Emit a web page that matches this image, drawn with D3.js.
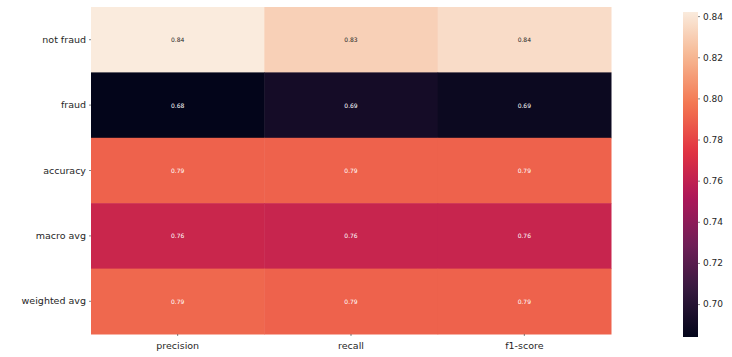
<!DOCTYPE html>
<html>
<head>
<meta charset="utf-8">
<script src="https://cdn.jsdelivr.net/npm/d3@7"></script>
<style>
  body { margin: 0; background: #fff; }
  svg { display: block; font-family: "DejaVu Sans", sans-serif; }
</style>
</head>
<body>
<svg id="chart" width="732" height="357"></svg>
<script>
// Classification report metrics
const rows = ["not fraud", "fraud", "accuracy", "macro avg", "weighted avg"];
const cols = ["precision", "recall", "f1-score"];
const precision = [0.842, 0.684, 0.79, 0.764, 0.792];
const recall    = [0.831, 0.692, 0.79, 0.763, 0.79];
const f1score   = [0.836, 0.688, 0.79, 0.763, 0.79];
const colorbarTicks = [0.70, 0.72, 0.74, 0.76, 0.78, 0.80, 0.82, 0.84];

// seaborn "rocket" colormap stops
const rocketPos   = [0, 1 / 7, 2 / 7, 3 / 7, 4 / 7, 5 / 7, 6 / 7, 1];
const rocketStops = ["#03051a", "#35193e", "#701f57", "#ad1759",
                     "#e13342", "#f37651", "#f6b48f", "#faebdd"];
const rocket = d3.scaleLinear()
  .domain(rocketPos)
  .range(rocketStops)
  .interpolate(d3.interpolateRgb);

const series = [precision, recall, f1score];
const cells = [];
rows.forEach((r, i) => cols.forEach((c, j) => cells.push({ row: r, col: c, value: series[j][i] })));

const all = cells.map(d => d.value);
const vmin = d3.min(all), vmax = d3.max(all);
const norm = d3.scaleLinear().domain([vmin, vmax]).range([0, 1]).clamp(true);
const color = v => rocket(norm(v));

const svg = d3.select("#chart");
const plotL = 91, plotR = 611, plotT = 7, plotB = 334;

const x = d3.scaleBand().domain(cols).range([plotL, plotR]);
const y = d3.scaleBand().domain(rows).range([plotT, plotB]);

svg.append("g").selectAll("rect").data(cells).join("rect")
  .attr("x", d => x(d.col)).attr("y", d => y(d.row))
  .attr("width", x.bandwidth() + 0.5).attr("height", y.bandwidth() + 0.5)
  .attr("fill", d => color(d.value));

function lum(c) {
  const rgb = d3.rgb(c);
  const f = v => { v /= 255; return v <= 0.03928 ? v / 12.92 : Math.pow((v + 0.055) / 1.055, 2.4); };
  return 0.2126 * f(rgb.r) + 0.7152 * f(rgb.g) + 0.0722 * f(rgb.b);
}

svg.append("g").selectAll("text").data(cells).join("text")
  .attr("x", d => x(d.col) + x.bandwidth() / 2)
  .attr("y", d => y(d.row) + y.bandwidth() / 2)
  .attr("text-anchor", "middle").attr("dominant-baseline", "central")
  .attr("font-size", 6)
  .attr("fill", d => lum(color(d.value)) > 0.408 ? "#262626" : "#ffffff")
  .text(d => d3.format(".2f")(d.value));

// axes
const xAxis = svg.append("g").attr("transform", `translate(0,${plotB})`)
  .call(d3.axisBottom(x).tickSize(2).tickPadding(6));
const yAxis = svg.append("g").attr("transform", `translate(${plotL},0)`)
  .call(d3.axisLeft(y).tickSize(2).tickPadding(3));
[xAxis, yAxis].forEach(g => {
  g.select(".domain").remove();
  g.selectAll("line").attr("stroke", "#333").attr("stroke-width", 0.6);
  g.selectAll("text").attr("font-size", 9.5).attr("fill", "#262626")
    .attr("font-family", "DejaVu Sans, sans-serif");
});

// colorbar
const cbX = 683, cbW = 15, cbTop = 12, cbBottom = 337;
const cy = d3.scaleLinear().domain([vmin, vmax]).range([cbBottom, cbTop]);
const defs = svg.append("defs");
const grad = defs.append("linearGradient").attr("id", "cbgrad")
  .attr("x1", 0).attr("y1", 1).attr("x2", 0).attr("y2", 0);
d3.range(0, 1.0001, 0.02).forEach(t => grad.append("stop")
  .attr("offset", t).attr("stop-color", rocket(t)));
svg.append("rect").attr("x", cbX).attr("y", cbTop)
  .attr("width", cbW).attr("height", cbBottom - cbTop).attr("fill", "url(#cbgrad)");
const cbAxis = svg.append("g").attr("transform", `translate(${cbX + cbW},0)`)
  .call(d3.axisRight(cy).tickValues(colorbarTicks).tickFormat(d3.format(".2f")).tickSize(2).tickPadding(3));
cbAxis.select(".domain").remove();
cbAxis.selectAll("line").attr("stroke", "#333").attr("stroke-width", 0.6);
cbAxis.selectAll("text").attr("font-size", 9).attr("fill", "#262626")
  .attr("font-family", "DejaVu Sans, sans-serif");
</script>
</body>
</html>
